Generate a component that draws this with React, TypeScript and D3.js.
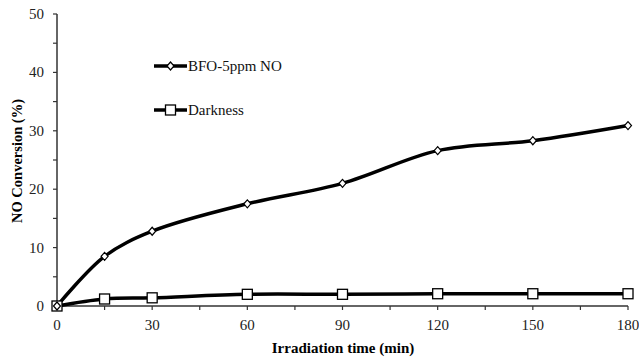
import React, { useEffect, useRef } from "react";
import * as d3 from "d3";

const times = [0, 15, 30, 60, 90, 120, 150, 180];
const bfoValues = [0, 8.5, 12.8, 17.5, 21.0, 26.6, 28.3, 30.9];
const darkValues = [0, 1.2, 1.4, 2.0, 2.0, 2.1, 2.1, 2.1];
const xTicks = [0, 30, 60, 90, 120, 150, 180];
const yTicks = [0, 10, 20, 30, 40, 50];
const seriesNames = ["BFO-5ppm NO", "Darkness"];

const App = () => {
  const svgRef = useRef<SVGSVGElement>(null);

  useEffect(() => {
    const svg = d3.select(svgRef.current);
    svg.selectAll("*").remove();

    const x = d3.scaleLinear().domain([0, 180]).range([57, 628]);
    const y = d3.scaleLinear().domain([0, 50]).range([306, 14]);

    // ejes
    const xAxis = svg.append("g").attr("transform", `translate(0, ${y(0)})`);
    xAxis
      .append("line")
      .attr("x1", x(0))
      .attr("x2", x(180))
      .attr("stroke", "#333")
      .attr("stroke-width", 1.5);
    xAxis
      .selectAll(".xt")
      .data(d3.range(0, 181, 15))
      .enter()
      .append("line")
      .attr("x1", (d) => x(d))
      .attr("x2", (d) => x(d))
      .attr("y1", 0)
      .attr("y2", 4)
      .attr("stroke", "#333")
      .attr("stroke-width", 1.2);
    xAxis
      .selectAll(".xl")
      .data(xTicks)
      .enter()
      .append("text")
      .attr("x", (d) => x(d))
      .attr("y", 24)
      .attr("text-anchor", "middle")
      .attr("font-size", 15)
      .attr("fill", "#222")
      .text((d) => d);

    const yAxis = svg.append("g").attr("transform", `translate(${x(0)}, 0)`);
    yAxis
      .append("line")
      .attr("y1", y(0))
      .attr("y2", y(50))
      .attr("stroke", "#333")
      .attr("stroke-width", 1.5);
    yAxis
      .selectAll(".yt")
      .data(d3.range(0, 51, 5))
      .enter()
      .append("line")
      .attr("y1", (d) => y(d))
      .attr("y2", (d) => y(d))
      .attr("x1", -4)
      .attr("x2", 0)
      .attr("stroke", "#333")
      .attr("stroke-width", 1.2);
    yAxis
      .selectAll(".yl")
      .data(yTicks)
      .enter()
      .append("text")
      .attr("x", -13)
      .attr("y", (d) => y(d) + 5)
      .attr("text-anchor", "end")
      .attr("font-size", 15)
      .attr("fill", "#222")
      .text((d) => d);

    svg
      .append("text")
      .attr("transform", "translate(22, 161) rotate(-90)")
      .attr("text-anchor", "middle")
      .attr("font-weight", "bold")
      .attr("font-size", 14.5)
      .text("NO Conversion (%)");

    svg
      .append("text")
      .attr("x", 343)
      .attr("y", 353)
      .attr("text-anchor", "middle")
      .attr("font-weight", "bold")
      .attr("font-size", 15)
      .text("Irradiation time (min)");

    // curvas
    const line = d3
      .line<number>()
      .x((_, i) => x(times[i]))
      .y((d) => y(d))
      .curve(d3.curveCatmullRom.alpha(0.5));

    [bfoValues, darkValues].forEach((vals) => {
      svg
        .append("path")
        .attr("d", line(vals))
        .attr("fill", "none")
        .attr("stroke", "#000")
        .attr("stroke-width", 3.5);
    });

    const diamond = (g, cx, cy) =>
      g
        .append("path")
        .attr("d", `M${cx},${cy - 4} L${cx + 3.5},${cy} L${cx},${cy + 4} L${cx - 3.5},${cy} Z`)
        .attr("fill", "#fff")
        .attr("stroke", "#000")
        .attr("stroke-width", 1.2);
    const square = (g, cx, cy) =>
      g
        .append("rect")
        .attr("x", cx - 5)
        .attr("y", cy - 5)
        .attr("width", 10)
        .attr("height", 10)
        .attr("fill", "#fff")
        .attr("stroke", "#000")
        .attr("stroke-width", 1.3);

    times.forEach((t, i) => {
      square(svg, x(t), y(darkValues[i]));
    });
    times.forEach((t, i) => {
      diamond(svg, x(t), y(bfoValues[i]));
    });

    // leyenda
    const legendY = [66, 110];
    seriesNames.forEach((name, i) => {
      const g = svg.append("g");
      g.append("line")
        .attr("x1", 154)
        .attr("x2", 187)
        .attr("y1", legendY[i])
        .attr("y2", legendY[i])
        .attr("stroke", "#000")
        .attr("stroke-width", 3.5);
      if (i === 0) diamond(g, 170.5, legendY[i]);
      else square(g, 170.5, legendY[i]);
      g.append("text")
        .attr("x", 188)
        .attr("y", legendY[i] + 5)
        .attr("font-size", 15)
        .attr("fill", "#111")
        .text(name);
    });
  }, []);

  return (
    <svg
      ref={svgRef}
      width={639}
      height={360}
      style={{
        position: "absolute",
        left: 0,
        top: 0,
        background: "#fff",
        fontFamily: "'Liberation Serif', serif",
      }}
    />
  );
};

export default App;
